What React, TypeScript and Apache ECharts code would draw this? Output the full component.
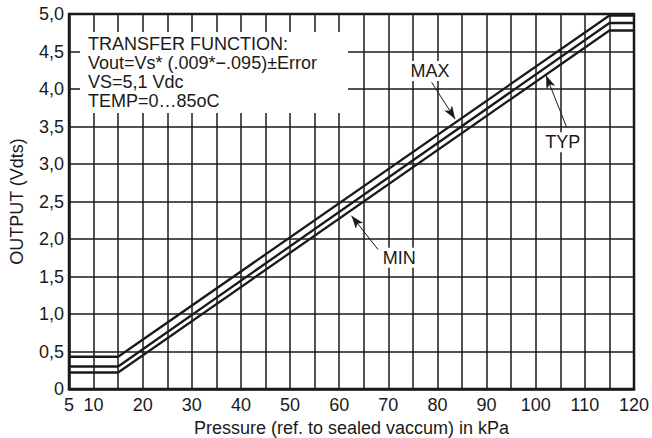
import React, { useEffect, useRef } from "react";
import * as echarts from "echarts";

const pressure = [5, 15, 115, 120];
const minV = [0.22, 0.22, 4.78, 4.78];
const typV = [0.3, 0.3, 4.88, 4.88];
const maxV = [0.43, 0.43, 4.98, 4.98];

const annotLabels = [
  { name: "MAX", coord: [78.5, 4.24] },
  { name: "TYP", coord: [105.5, 3.29] },
  { name: "MIN", coord: [72.2, 1.75] },
];
const arrows = [
  { from: [78.8, 4.09], to: [83.6, 3.6] },
  { from: [106.3, 3.49], to: [102.1, 4.18] },
  { from: [67.9, 1.86], to: [62.5, 2.31] },
];
const boxLines = [
  "TRANSFER FUNCTION:",
  "Vout=Vs* (.009*\u2212.095)\u00b1Error",
  "VS=5,1 Vdc",
  "TEMP=0\u202685oC",
];

const FONT = "'Liberation Sans', Arial, Helvetica, sans-serif";
const INK = "#1a1a1a";
const FS = 18;

export default function App() {
  const ref = useRef<HTMLDivElement>(null);
  useEffect(() => {
    if (!ref.current) return;
    const chart = echarts.init(ref.current, null, { renderer: "svg" });
    const mk = (vals: number[]) => pressure.map((p, i) => [p, vals[i]]);
    const lineSeries = (name: string, vals: number[], extra: any = {}) => ({
      name,
      type: "line",
      data: mk(vals),
      symbol: "none",
      lineStyle: { color: INK, width: 2.3 },
      z: 5,
      ...extra,
    });
    chart.setOption({
      animation: false,
      textStyle: { fontFamily: FONT },
      grid: {
        left: 69,
        right: 18,
        top: 14,
        bottom: 49,
        containLabel: false,
        outerBoundsMode: "none",
        show: true,
        borderColor: INK,
        borderWidth: 2.5,
        backgroundColor: "#fff",
      },
      xAxis: {
        type: "value",
        min: 5,
        max: 120,
        interval: 5,
        name: "Pressure (ref. to sealed vaccum) in kPa",
        nameLocation: "middle",
        nameGap: 28,
        nameTextStyle: { fontSize: FS, color: INK, fontFamily: FONT },
        axisLine: { show: true, lineStyle: { color: INK, width: 2.5 } },
        axisTick: { show: false },
        axisLabel: {
          fontSize: FS,
          color: INK,
          margin: 7,
          fontFamily: FONT,
          formatter: (v: number) => (v === 5 || v % 10 === 0 ? String(v) : ""),
        },
        splitLine: { show: true, lineStyle: { color: INK, width: 1.5 } },
      },
      yAxis: {
        type: "value",
        min: 0,
        max: 5,
        interval: 0.5,
        name: "OUTPUT (Vdts)",
        nameLocation: "middle",
        nameGap: 43,
        nameTextStyle: { fontSize: FS, color: INK, fontFamily: FONT },
        axisLine: { show: true, lineStyle: { color: INK, width: 2.5 } },
        axisTick: { show: false },
        axisLabel: {
          fontSize: FS,
          color: INK,
          margin: 5,
          fontFamily: FONT,
          formatter: (v: number) => (v === 0 ? "0" : v.toFixed(1).replace(".", ",")),
        },
        splitLine: { show: true, lineStyle: { color: INK, width: 1.5 } },
      },
      series: [
        lineSeries("MIN", minV, {
          markLine: {
            silent: true,
            symbol: ["none", "arrow"],
            symbolSize: [7, 13],
            label: { show: false },
            lineStyle: { color: INK, width: 1, type: "solid" },
            data: arrows.map((a) => [{ coord: a.from }, { coord: a.to }]),
          },
        }),
        lineSeries("TYP", typV),
        lineSeries("MAX", maxV, {
          markPoint: {
            silent: true,
            symbol: "rect",
            symbolSize: 1,
            itemStyle: { color: "rgba(0,0,0,0)" },
            label: {
              show: true,
              position: "inside",
              formatter: "{b}",
              backgroundColor: "#fff",
              padding: [1, 2],
              color: INK,
              fontSize: FS,
              fontFamily: FONT,
            },
            data: annotLabels.map((l) => ({ name: l.name, coord: l.coord })),
          },
        }),
      ],
      graphic: [
        {
          type: "rect",
          z: 100,
          shape: { x: 80, y: 32, width: 268, height: 81 },
          style: { fill: "#fff" },
        },
        ...boxLines.map((t, i) => ({
          type: "text",
          z: 101,
          x: 88,
          y: 44 + i * 19,
          style: {
            text: t,
            fill: INK,
            font: `${FS}px ${FONT}`,
            verticalAlign: "middle",
          },
        })),
      ],
    });
    return () => chart.dispose();
  }, []);
  return (
    <div
      ref={ref}
      style={{ position: "absolute", left: 0, top: 0, width: 652, height: 438 }}
    />
  );
}
